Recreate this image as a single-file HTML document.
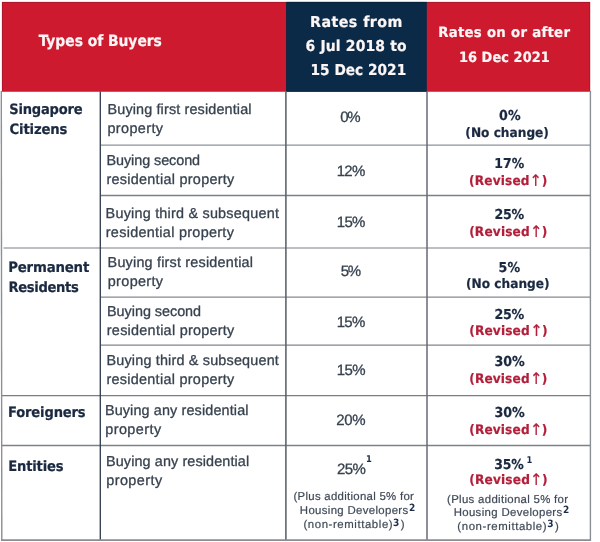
<!DOCTYPE html>
<html lang="en">
<head>
<meta charset="utf-8">
<title>ABSD rates</title>
<style>
html,body{margin:0;padding:0;background:#fff;}
body{width:600px;height:542px;position:relative;overflow:hidden;text-rendering:geometricPrecision;font-family:"Liberation Sans",Arial,sans-serif;}
#bg{filter:blur(0.4px);position:absolute;left:0;top:0;width:600px;height:542px;display:block;}
table{filter:blur(0.4px);position:absolute;left:0;top:0;width:600px;height:542px;border-collapse:collapse;border-spacing:0;table-layout:fixed;}
td,th{padding:0;margin:0;border:0;position:relative;vertical-align:top;text-align:left;font-weight:normal;overflow:visible;}
.t{position:absolute;white-space:nowrap;line-height:1;display:block;transform-origin:0 0;}
.hb,.lb,.rb,.nb,.rv,.sup{font-family:"DejaVu Sans Condensed","Liberation Sans",sans-serif;}
.hb{font-weight:bold;color:#fdf6f6;-webkit-text-stroke:0.2px #fdf6f6;}
.lb{font-weight:bold;color:#1a2940;-webkit-text-stroke:0.2px #1a2940;}
.d{color:#37424f;-webkit-text-stroke:0.3px #37424f;}
.r{color:#37424f;-webkit-text-stroke:0.3px #37424f;}
.rb{font-weight:bold;color:#1a2940;-webkit-text-stroke:0.2px #1a2940;}
.nb{font-weight:bold;color:#1a2940;-webkit-text-stroke:0.2px #1a2940;}
.rv{font-weight:bold;color:#b21f3a;-webkit-text-stroke:0.2px #b21f3a;}
.rv .ar{font-family:"DejaVu Sans","Liberation Sans",sans-serif;font-weight:normal;font-size:16px;letter-spacing:0;line-height:0;position:relative;top:1px;margin-left:-5.9px;margin-right:-1.0px;white-space:pre;display:inline-block;transform:scaleX(0.9);transform-origin:75% 50%;}
.n{color:#3f4956;-webkit-text-stroke:0.2px #3f4956;}
.sup{font-weight:bold;color:#1b2c48;}
</style>
</head>
<body>
<svg id="bg" width="600" height="542" viewBox="0 0 600 542">
<rect x="0" y="0" width="600" height="542" fill="#ffffff"/>
<rect x="1.9" y="1.9" width="588.3" height="89.8" fill="#a3152a"/>
<rect x="2.7" y="2.7" width="283.8" height="88.3" fill="#cd1a2f"/>
<rect x="286.3" y="1.9" width="140.6" height="89.8" fill="#081f36"/>
<rect x="286.3" y="2.6" width="140.6" height="88.5" fill="#0b2a47"/>
<rect x="426.8" y="2.7" width="162.6" height="88.3" fill="#cd1a2f"/>
<line x1="100.3" y1="145.2" x2="590.5" y2="145.2" stroke="#8b919b" stroke-width="1.3"/>
<line x1="100.3" y1="195.5" x2="590.5" y2="195.5" stroke="#7b7f88" stroke-width="1.3"/>
<line x1="3.5" y1="248.0" x2="590.5" y2="248.0" stroke="#a6a9ae" stroke-width="1.3"/>
<line x1="100.3" y1="297.1" x2="590.5" y2="297.1" stroke="#858990" stroke-width="1.3"/>
<line x1="100.3" y1="345.2" x2="590.5" y2="345.2" stroke="#80848c" stroke-width="1.3"/>
<line x1="2" y1="395.7" x2="590.5" y2="395.7" stroke="#787c83" stroke-width="1.3"/>
<line x1="2" y1="445.5" x2="590.5" y2="445.5" stroke="#7d8188" stroke-width="1.3"/>
<line x1="100.3" y1="91.5" x2="100.3" y2="540" stroke="#343f50" stroke-width="1.35"/>
<line x1="285.9" y1="91.5" x2="285.9" y2="540" stroke="#5a616c" stroke-width="1.55"/>
<line x1="427.0" y1="91.5" x2="427.0" y2="540" stroke="#666b73" stroke-width="1.5"/>
<line x1="1.3" y1="91" x2="1.8" y2="541" stroke="#8c8f94" stroke-width="1.4"/>
<line x1="590.4" y1="91" x2="590.4" y2="541" stroke="#8a8f96" stroke-width="1.4"/>
<line x1="1.2" y1="540.2" x2="591" y2="540.2" stroke="#8a8d92" stroke-width="1.8"/>
</svg>
<table>
<colgroup><col style="width:100px"><col style="width:186px"><col style="width:141px"><col style="width:173px"></colgroup>
<tr style="height:92px">
<th colspan="2"><span class="t hb" id="l0" style="left:38px;top:34.16px;font-size:15.5px;transform:translateX(0.75px) scaleX(0.996);letter-spacing:-0.04px;">Types of Buyers</span></th>
<th><span class="t hb" id="l1" style="left:24px;top:14.91px;font-size:15.1px;transform:translateX(0px) scaleX(1.049);letter-spacing:0.42px;">Rates from</span><span class="t hb" id="l2" style="left:19px;top:38.66px;font-size:15.1px;transform:translateX(0.5px) scaleX(1.025);letter-spacing:0.17px;">6 Jul 2018 to</span><span class="t hb" id="l3" style="left:24px;top:63.41px;font-size:15.1px;transform:translateX(0.5px) scaleX(1.007);letter-spacing:0.03px;">15 Dec 2021</span></th>
<th><span class="t hb" id="l4" style="left:11px;top:26.12px;font-size:14.2px;transform:translateX(0.15px) scaleX(1.040);letter-spacing:0.28px;">Rates on or after</span><span class="t hb" id="l5" style="left:31px;top:51.22px;font-size:14.2px;transform:translateX(0.9px) scaleX(1.011);letter-spacing:0.09px;">16 Dec 2021</span></th>
</tr>
<tr style="height:53px">
<td rowspan="3"><span class="t lb" id="l6" style="left:9px;top:10.77px;font-size:14.3px;transform:translateX(0.25px) scaleX(1.016);letter-spacing:-0.2px;">Singapore</span><span class="t lb" id="l7" style="left:9px;top:31.27px;font-size:14.3px;transform:translateX(0.5px) scaleX(1.025);letter-spacing:-0.14px;">Citizens</span></td>
<td><span class="t d" id="l12" style="left:7.5px;top:10.96px;font-size:14.4px;letter-spacing:0.14px;">Buying first residential</span><span class="t d" id="l13" style="left:7.4px;top:29.86px;font-size:14.4px;letter-spacing:0.4px;">property</span></td>
<td><span class="t r" id="l28" style="left:54.35px;top:18.29px;font-size:15px;letter-spacing:-1.35px;">0%</span></td>
<td><span class="t rb" id="l37" style="left:71px;top:17.56px;font-size:13.7px;transform:translateX(0.95px) scaleX(1.025);letter-spacing:0.24px;">0%</span><span class="t nb" id="l38" style="left:38px;top:34.63px;font-size:13.1px;transform:translateX(0.35px) scaleX(1.032);letter-spacing:-0px;">(No change)</span></td>
</tr>
<tr style="height:50px">
<td><span class="t d" id="l14" style="left:6.5px;top:9.36px;font-size:14.4px;letter-spacing:-0.07px;">Buying second</span><span class="t d" id="l15" style="left:6.4px;top:27.96px;font-size:14.4px;letter-spacing:0.29px;">residential property</span></td>
<td><span class="t r" id="l29" style="left:50.75px;top:18.79px;font-size:15px;letter-spacing:-0.75px;">12%</span></td>
<td><span class="t rb" id="l39" style="left:67px;top:12.75px;font-size:13.7px;transform:translateX(0.3px) scaleX(1.012);letter-spacing:0.11px;">17%</span><span class="t rv" id="l40" style="left:42px;top:30.23px;font-size:13.1px;transform:translateX(0px) scaleX(1.027);letter-spacing:0.19px;">(Revised<span class="ar"> &#8593;</span>)</span></td>
</tr>
<tr style="height:53px">
<td><span class="t d" id="l16" style="left:5.6px;top:11.96px;font-size:14.4px;letter-spacing:0.22px;">Buying third &amp; subsequent</span><span class="t d" id="l17" style="left:5.75px;top:31.36px;font-size:14.4px;letter-spacing:0.3px;">residential property</span></td>
<td><span class="t r" id="l30" style="left:50.8px;top:19.99px;font-size:15px;letter-spacing:-0.73px;">15%</span></td>
<td><span class="t rb" id="l41" style="left:67px;top:14.16px;font-size:13.7px;transform:translateX(0.5px) scaleX(1.025);letter-spacing:-0.32px;">25%</span><span class="t rv" id="l42" style="left:42px;top:31.44px;font-size:13.1px;transform:translateX(0.15px) scaleX(1.030);letter-spacing:0.17px;">(Revised<span class="ar"> &#8593;</span>)</span></td>
</tr>
<tr style="height:49px">
<td rowspan="3"><span class="t lb" id="l8" style="left:8px;top:13.02px;font-size:14.3px;transform:translateX(0.2px) scaleX(1.035);letter-spacing:-0.18px;">Permanent</span><span class="t lb" id="l9" style="left:8px;top:32.52px;font-size:14.3px;transform:translateX(0.5px) scaleX(1.020);letter-spacing:-0.33px;">Residents</span></td>
<td><span class="t d" id="l18" style="left:7.6px;top:7.66px;font-size:14.4px;letter-spacing:0.2px;">Buying first residential</span><span class="t d" id="l19" style="left:7.75px;top:26.96px;font-size:14.4px;letter-spacing:0.36px;">property</span></td>
<td><span class="t r" id="l31" style="left:54.75px;top:15.59px;font-size:15px;letter-spacing:-1.25px;">5%</span></td>
<td><span class="t rb" id="l43" style="left:71px;top:13.56px;font-size:13.7px;transform:translateX(0.55px) scaleX(1.023);letter-spacing:0.24px;">5%</span><span class="t nb" id="l44" style="left:39px;top:29.54px;font-size:13.1px;transform:translateX(0px) scaleX(1.031);letter-spacing:0.01px;">(No change)</span></td>
</tr>
<tr style="height:48px">
<td><span class="t d" id="l20" style="left:7.05px;top:8.46px;font-size:14.4px;letter-spacing:-0.03px;">Buying second</span><span class="t d" id="l21" style="left:6.8px;top:26.86px;font-size:14.4px;letter-spacing:0.27px;">residential property</span></td>
<td><span class="t r" id="l32" style="left:50.75px;top:18.09px;font-size:15px;letter-spacing:-0.75px;">15%</span></td>
<td><span class="t rb" id="l45" style="left:67px;top:11.86px;font-size:13.7px;transform:translateX(0.5px) scaleX(1.029);letter-spacing:-0.36px;">25%</span><span class="t rv" id="l46" style="left:42px;top:28.04px;font-size:13.1px;transform:translateX(0.2px) scaleX(1.036);letter-spacing:0.12px;">(Revised<span class="ar"> &#8593;</span>)</span></td>
</tr>
<tr style="height:51px">
<td><span class="t d" id="l22" style="left:6.5px;top:9.36px;font-size:14.4px;letter-spacing:0.18px;">Buying third &amp; subsequent</span><span class="t d" id="l23" style="left:6.4px;top:27.86px;font-size:14.4px;letter-spacing:0.29px;">residential property</span></td>
<td><span class="t r" id="l33" style="left:50.85px;top:17.89px;font-size:15px;letter-spacing:-0.7px;">15%</span></td>
<td><span class="t rb" id="l47" style="left:67px;top:11.16px;font-size:13.7px;transform:translateX(0.6px) scaleX(1.031);letter-spacing:-0.18px;">30%</span><span class="t rv" id="l48" style="left:42px;top:27.94px;font-size:13.1px;transform:translateX(0.2px) scaleX(1.032);letter-spacing:0.13px;">(Revised<span class="ar"> &#8593;</span>)</span></td>
</tr>
<tr style="height:49px">
<td><span class="t lb" id="l10" style="left:7px;top:10.07px;font-size:14.3px;transform:translateX(1px) scaleX(1.017);letter-spacing:-0.14px;">Foreigners</span></td>
<td><span class="t d" id="l24" style="left:4.95px;top:8.36px;font-size:14.4px;letter-spacing:0.13px;">Buying any residential</span><span class="t d" id="l25" style="left:5.2px;top:26.96px;font-size:14.4px;letter-spacing:0.45px;">property</span></td>
<td><span class="t r" id="l34" style="left:50.35px;top:16.89px;font-size:15px;letter-spacing:-0.45px;">20%</span></td>
<td><span class="t rb" id="l49" style="left:67px;top:11.06px;font-size:13.7px;transform:translateX(0.6px) scaleX(1.031);letter-spacing:-0.18px;">30%</span><span class="t rv" id="l50" style="left:42px;top:28.44px;font-size:13.1px;transform:translateX(0.2px) scaleX(1.032);letter-spacing:0.13px;">(Revised<span class="ar"> &#8593;</span>)</span></td>
</tr>
<tr style="height:97px">
<td><span class="t lb" id="l11" style="left:8px;top:15.02px;font-size:14.3px;transform:translateX(0.2px) scaleX(1.019);letter-spacing:-0.17px;">Entities</span></td>
<td><span class="t d" id="l26" style="left:6px;top:10.06px;font-size:14.4px;letter-spacing:0.11px;">Buying any residential</span><span class="t d" id="l27" style="left:6.25px;top:29.16px;font-size:14.4px;letter-spacing:0.44px;">property</span></td>
<td><span class="t r" id="l35" style="left:51px;top:17.09px;font-size:15px;letter-spacing:-0.62px;">25%</span><span class="t sup" id="l36" style="left:80px;top:10.35px;font-size:9.3px;">1</span><span class="t n" id="l54" style="left:7.5px;top:46.81px;font-size:11.4px;letter-spacing:0.29px;">(Plus additional 5% for</span><span class="t n" id="l55" style="left:13.85px;top:61.31px;font-size:11.4px;letter-spacing:0.34px;">Housing Developers</span><span class="t sup" id="l56" style="left:123.1px;top:58.6px;font-size:10px;">2</span><span class="t n" id="l57" style="left:17.5px;top:75.06px;font-size:11.4px;letter-spacing:0.58px;">(non-remittable)</span><span class="t sup" id="l58" style="left:107.05px;top:73.6px;font-size:10px;">3</span><span class="t n" id="l59" style="left:114.8px;top:75.06px;font-size:11.4px;">)</span></td>
<td><span class="t rb" id="l51" style="left:67px;top:14.06px;font-size:13.7px;transform:translateX(0.2px) scaleX(1.012);letter-spacing:-0.09px;">35%</span><span class="t sup" id="l52" style="left:99.5px;top:11.2px;font-size:9.3px;">1</span><span class="t rv" id="l53" style="left:42px;top:29.24px;font-size:13.1px;transform:translateX(0.2px) scaleX(1.033);letter-spacing:0.16px;">(Revised<span class="ar"> &#8593;</span>)</span><span class="t n" id="l60" style="left:20.05px;top:50.01px;font-size:11.4px;letter-spacing:0.32px;">(Plus additional 5% for</span><span class="t n" id="l61" style="left:26.65px;top:63.11px;font-size:11.4px;letter-spacing:0.35px;">Housing Developers</span><span class="t sup" id="l62" style="left:135.9px;top:61.1px;font-size:10px;">2</span><span class="t n" id="l63" style="left:30.35px;top:76.71px;font-size:11.4px;letter-spacing:0.59px;">(non-remittable)</span><span class="t sup" id="l64" style="left:120.28px;top:75px;font-size:10px;">3</span><span class="t n" id="l65" style="left:128px;top:76.71px;font-size:11.4px;">)</span></td>
</tr>
</table>
</body>
</html>
